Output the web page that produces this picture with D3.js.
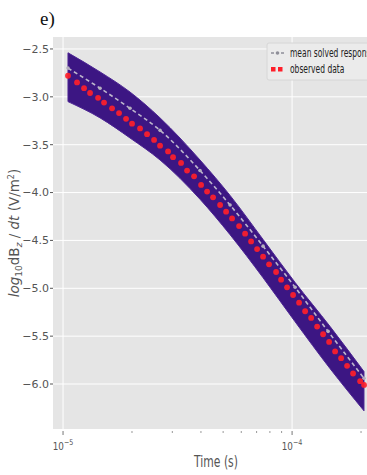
<!DOCTYPE html>
<html>
<head>
<meta charset="utf-8">
<script src="https://cdn.jsdelivr.net/npm/d3@7"></script>
<style>
  html, body { margin: 0; padding: 0; background: #fff; }
  svg { display: block; font-family: 'DejaVu Sans', sans-serif; }
</style>
</head>
<body>
<svg id="chart" width="367" height="475"></svg>
<script>
// observed data (time in s, log10 dBz/dt)
var obsTime = [1.051e-5, 1.151e-5, 1.235e-5, 1.312e-5, 1.422e-5, 1.510e-5, 1.637e-5, 1.756e-5,
  1.884e-5, 2.001e-5, 2.169e-5, 2.327e-5, 2.497e-5, 2.652e-5, 2.874e-5, 3.022e-5, 3.275e-5,
  3.479e-5, 3.733e-5, 4.006e-5, 4.255e-5, 4.519e-5, 4.850e-5, 5.150e-5, 5.470e-5, 5.870e-5,
  6.234e-5, 6.622e-5, 7.034e-5, 7.470e-5, 7.934e-5, 8.513e-5, 8.954e-5, 9.507e-5, 1.010e-4,
  1.073e-4, 1.140e-4, 1.211e-4, 1.286e-4, 1.366e-4, 1.451e-4, 1.541e-4, 1.637e-4, 1.738e-4,
  1.846e-4, 1.982e-4, 2.062e-4];
var obsValue = [-2.78, -2.85, -2.91, -2.96, -3.01, -3.06, -3.12, -3.17,
  -3.23, -3.28, -3.33, -3.39, -3.45, -3.51, -3.57, -3.63, -3.69,
  -3.77, -3.83, -3.92, -3.99, -4.05, -4.13, -4.20, -4.27, -4.35,
  -4.43, -4.51, -4.59, -4.67, -4.75, -4.83, -4.91, -4.99, -5.07,
  -5.15, -5.24, -5.31, -5.40, -5.48, -5.56, -5.66, -5.73, -5.81,
  -5.89, -5.97, -6.01];

// mean solved response
var meanTime = [1.051e-5, 1.451e-5, 1.961e-5, 2.652e-5, 3.963e-5, 5.36e-5, 7.47e-5, 1.031e-4, 1.436e-4, 2.06e-4];
var meanValue = [-2.70, -2.91, -3.12, -3.35, -3.77, -4.13, -4.56, -4.99, -5.45, -5.94];

// envelope of the ensemble of solved responses
var bandTime = [1.051e-5, 1.451e-5, 1.961e-5, 2.652e-5, 3.963e-5, 5.36e-5, 7.47e-5, 1.031e-4, 1.466e-4, 2.06e-4];
var bandUpper = [-2.54, -2.74, -2.95, -3.22, -3.66, -4.03, -4.49, -4.94, -5.40, -5.87];
var bandLower = [-3.05, -3.22, -3.43, -3.66, -4.07, -4.44, -4.89, -5.35, -5.84, -6.28];

var yTicks = [-2.5, -3.0, -3.5, -4.0, -4.5, -5.0, -5.5, -6.0];
var xMajorTicks = [1e-5, 1e-4];
var xMinorTicks = [2e-5, 3e-5, 4e-5, 5e-5, 6e-5, 7e-5, 8e-5, 9e-5, 2e-4];
var xTickExp = ['\u22125', '\u22124'];
var legendLabels = ['mean solved response', 'observed data'];

var svg = d3.select('#chart');
var margin = {top: 37, left: 53, bottom: 46, right: -13};
var width = 367 - margin.left - margin.right;
var height = 475 - margin.top - margin.bottom;

var x = d3.scaleLog().domain([9.04e-6, 2.42e-4]).range([0, width]);
var y = d3.scaleLinear().domain([-6.47, -2.375]).range([height, 0]);

var g = svg.append('g').attr('transform', 'translate(' + margin.left + ',' + margin.top + ')');

// panel label
svg.append('text')
  .attr('x', 40).attr('y', 25)
  .attr('font-family', 'Liberation Serif, serif')
  .attr('font-size', 19)
  .attr('fill', '#111')
  .text('e)');

// background + grid
g.append('rect').attr('width', width).attr('height', height).attr('fill', '#e5e5e5');

g.selectAll('.ygrid').data(yTicks).enter().append('line')
  .attr('x1', 0).attr('x2', width)
  .attr('y1', function(d) { return y(d) }).attr('y2', function(d) { return y(d) })
  .attr('stroke', '#fff').attr('stroke-width', 1);

g.selectAll('.xgrid').data(xMajorTicks).enter().append('line')
  .attr('x1', function(d) { return x(d) }).attr('x2', function(d) { return x(d) })
  .attr('y1', 0).attr('y2', height)
  .attr('stroke', '#fff').attr('stroke-width', 1);

// ensemble band
var band = bandTime.map(function(t, i) { return {t: t, hi: bandUpper[i], lo: bandLower[i]} });
var area = d3.area()
  .x(function(d) { return x(d.t) })
  .y0(function(d) { return y(d.lo) })
  .y1(function(d) { return y(d.hi) })
  .curve(d3.curveMonotoneX);

g.append('path').datum(band)
  .attr('fill', '#3c1683')
  .attr('stroke', '#4c2494')
  .attr('stroke-width', 1)
  .attr('d', area);

// mean solved response
var meanData = meanTime.map(function(t, i) { return {t: t, v: meanValue[i]} });
var line = d3.line()
  .x(function(d) { return x(d.t) })
  .y(function(d) { return y(d.v) })
  .curve(d3.curveMonotoneX);

g.append('path').datum(meanData)
  .attr('fill', 'none')
  .attr('stroke', '#bdb6cc')
  .attr('stroke-width', 1.6)
  .attr('stroke-dasharray', '4,3')
  .attr('d', line);

g.selectAll('.meanpt').data(meanData).enter().append('circle')
  .attr('cx', function(d) { return x(d.t) })
  .attr('cy', function(d) { return y(d.v) })
  .attr('r', 1.8)
  .attr('fill', '#b4aebe');

// observed data
g.selectAll('.obs').data(obsTime).enter().append('circle')
  .attr('cx', function(d) { return x(d) })
  .attr('cy', function(d, i) { return y(obsValue[i]) })
  .attr('r', 2.9)
  .attr('fill', '#ff1f2a')
  .attr('opacity', 0.92);

// y axis
var yAxis = g.append('g').attr('font-size', 11).attr('fill', '#555');
yAxis.selectAll('line').data(yTicks).enter().append('line')
  .attr('x1', -3).attr('x2', 0)
  .attr('y1', function(d) { return y(d) }).attr('y2', function(d) { return y(d) })
  .attr('stroke', '#555');
yAxis.selectAll('text').data(yTicks).enter().append('text')
  .attr('x', -4).attr('y', function(d) { return y(d) })
  .attr('dy', '0.35em')
  .attr('text-anchor', 'end')
  .text(function(d) { return d3.format('.1f')(d).replace('-', '\u2212') });

// x axis
var xAxis = g.append('g').attr('transform', 'translate(0,' + height + ')');
xAxis.selectAll('.maj').data(xMajorTicks).enter().append('line')
  .attr('x1', function(d) { return x(d) }).attr('x2', function(d) { return x(d) })
  .attr('y1', 2).attr('y2', 6).attr('stroke', '#777');
xAxis.selectAll('.min').data(xMinorTicks).enter().append('line')
  .attr('x1', function(d) { return x(d) }).attr('x2', function(d) { return x(d) })
  .attr('y1', 2).attr('y2', 4).attr('stroke', '#999');

var xl = xAxis.selectAll('.lab').data(xMajorTicks).enter().append('text')
  .attr('transform', function(d) { return 'translate(' + x(d) + ',21) scale(0.8,1)' })
  .attr('text-anchor', 'middle')
  .attr('font-size', 11)
  .attr('fill', '#555');
xl.append('tspan').text('10');
xl.append('tspan').attr('dy', -5).attr('font-size', 8).text(function(d, i) { return xTickExp[i] });

g.append('text')
  .attr('transform', 'translate(' + (216 - margin.left) + ',' + (height + 38) + ') scale(0.72,1)')
  .attr('text-anchor', 'middle')
  .attr('font-size', 15)
  .attr('fill', '#555')
  .text('Time (s)');

// y label
var yl = svg.append('text')
  .attr('transform', 'translate(19,233) rotate(-90)')
  .attr('text-anchor', 'middle')
  .attr('font-size', 13.5)
  .attr('fill', '#555');
yl.append('tspan').attr('font-style', 'italic').text('log');
yl.append('tspan').attr('font-size', 9).attr('dy', 3).text('10');
yl.append('tspan').attr('dy', -3).text('dB');
yl.append('tspan').attr('font-size', 9).attr('dy', 3).attr('font-style', 'italic').text('z');
yl.append('tspan').attr('dy', -3).text(' / ');
yl.append('tspan').attr('font-style', 'italic').text('dt');
yl.append('tspan').text(' (V/m');
yl.append('tspan').attr('font-size', 8).attr('dy', -5).text('2');
yl.append('tspan').attr('dy', 5).text(')');

// legend
var leg = svg.append('g').attr('transform', 'translate(267,43)');
leg.append('rect')
  .attr('width', 115).attr('height', 37).attr('rx', 2)
  .attr('fill', '#ebebeb').attr('stroke', '#d6d6d6');
leg.append('line')
  .attr('x1', 4).attr('x2', 17).attr('y1', 10).attr('y2', 10)
  .attr('stroke', '#8f8f99').attr('stroke-width', 1.4).attr('stroke-dasharray', '3,2');
leg.append('circle').attr('cx', 10.5).attr('cy', 10).attr('r', 1.8).attr('fill', '#8f8f99');
leg.selectAll('.sq').data([6, 13]).enter().append('rect')
  .attr('x', function(d) { return d - 2 }).attr('y', 24)
  .attr('width', 4.5).attr('height', 4.5)
  .attr('fill', '#ff1f2a');
leg.selectAll('.lt').data(legendLabels).enter().append('text')
  .attr('transform', function(d, i) { return 'translate(23,' + (14 + i * 16) + ') scale(0.63,1)' })
  .attr('font-size', 12)
  .attr('fill', '#222')
  .text(function(d) { return d });
</script>
</body>
</html>
